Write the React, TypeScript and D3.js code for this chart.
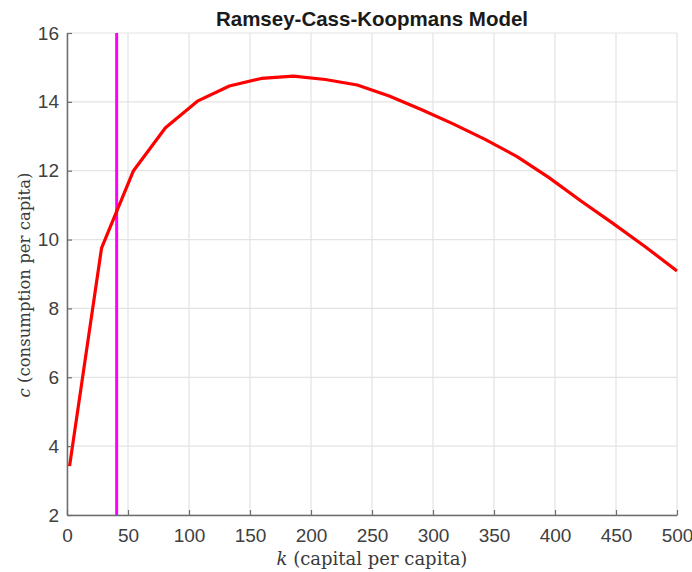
import React, { useEffect, useRef } from 'react';
import * as d3 from 'd3';

// capital per capita (k) and consumption per capita (c) along the saddle path
const kValues = [2.1, 28.3, 54.5, 80.7, 106.9, 133.1, 159.3, 185.5, 211.7, 237.9, 264.1, 290.3, 316.5, 342.7, 368.9, 395.1, 421.3, 447.5, 473.7, 500];
const cValues = [3.42, 9.75, 12.0, 13.25, 14.02, 14.46, 14.68, 14.75, 14.65, 14.49, 14.17, 13.78, 13.36, 12.91, 12.41, 11.8, 11.12, 10.47, 9.8, 9.09];
const steadyK = 40.7;
const xTicks = [0, 50, 100, 150, 200, 250, 300, 350, 400, 450, 500];
const yTicks = [2, 4, 6, 8, 10, 12, 14, 16];

const App = () => {
    const ref = useRef<SVGSVGElement>(null);

    useEffect(() => {
        const width = 692;
        const height = 572;
        const margin = { top: 33, right: 15, bottom: 57, left: 67 };

        const svg = d3.select(ref.current);
        svg.selectAll('*').remove();

        const x = d3.scaleLinear().domain([0, 500]).range([margin.left, width - margin.right]);
        const y = d3.scaleLinear().domain([2, 16]).range([height - margin.bottom, margin.top]);

        // grid
        const grid = svg.append('g').attr('stroke', '#e3e3e3').attr('stroke-width', 1.2);
        grid.selectAll('line.gx').data(xTicks).join('line')
            .attr('x1', d => x(d)).attr('x2', d => x(d))
            .attr('y1', y(2)).attr('y2', y(16));
        grid.selectAll('line.gy').data(yTicks).join('line')
            .attr('x1', x(0)).attr('x2', x(500))
            .attr('y1', d => y(d)).attr('y2', d => y(d));

        // steady-state capital
        svg.append('line')
            .attr('x1', x(steadyK)).attr('x2', x(steadyK))
            .attr('y1', y(2)).attr('y2', y(16))
            .attr('stroke', '#ff00ff').attr('stroke-width', 3);

        const data = kValues.map((k, i) => [k, cValues[i]] as [number, number]);
        const line = d3.line<[number, number]>().x(d => x(d[0])).y(d => y(d[1]));
        svg.append('path')
            .datum(data)
            .attr('d', line)
            .attr('fill', 'none')
            .attr('stroke', '#ff0000')
            .attr('stroke-width', 3.2)
            .attr('stroke-linejoin', 'round');

        // axes, ticks pointing inward
        const xAxis = svg.append('g')
            .attr('transform', `translate(0,${y(2)})`)
            .call(d3.axisBottom(x).tickValues(xTicks).tickSizeInner(-5).tickSizeOuter(0).tickPadding(14));
        const yAxis = svg.append('g')
            .attr('transform', `translate(${x(0)},0)`)
            .call(d3.axisLeft(y).tickValues(yTicks).tickSizeInner(-5).tickSizeOuter(0).tickPadding(8));
        [xAxis, yAxis].forEach(a => {
            a.select('.domain').attr('stroke', '#6e6e6e').attr('stroke-width', 1.5);
            a.selectAll('.tick line').attr('stroke', '#6e6e6e').attr('stroke-width', 1.2);
            a.selectAll('.tick text')
                .attr('fill', '#404040')
                .style('font-family', '"Liberation Sans", Arial, sans-serif')
                .style('font-size', '19px');
        });

        svg.append('text')
            .attr('x', (x(0) + x(500)) / 2)
            .attr('y', 26)
            .attr('text-anchor', 'middle')
            .style('font-family', '"Liberation Sans", Arial, sans-serif')
            .style('font-weight', 'bold')
            .style('font-size', '20.5px')
            .attr('fill', '#1a1a1a')
            .text('Ramsey-Cass-Koopmans Model');

        const xl = svg.append('text')
            .attr('x', (x(0) + x(500)) / 2)
            .attr('y', 565)
            .attr('text-anchor', 'middle')
            .style('font-family', '"DejaVu Serif", "Liberation Serif", serif')
            .style('font-size', '18px')
            .attr('fill', '#3a3a3a');
        xl.append('tspan').style('font-style', 'italic').text('k');
        xl.append('tspan').text(' (capital per capita)');

        const yl = svg.append('text')
            .attr('transform', `translate(30,285) rotate(-90)`)
            .attr('text-anchor', 'middle')
            .style('font-family', '"DejaVu Serif", "Liberation Serif", serif')
            .style('font-size', '16.5px')
            .attr('fill', '#3a3a3a');
        yl.append('tspan').style('font-style', 'italic').text('c');
        yl.append('tspan').text(' (consumption per capita)');
    }, []);

    return (
        <svg ref={ref} width={692} height={572}
            style={{ position: 'absolute', left: 0, top: 0, background: '#fff' }} />
    );
};

export default App;
